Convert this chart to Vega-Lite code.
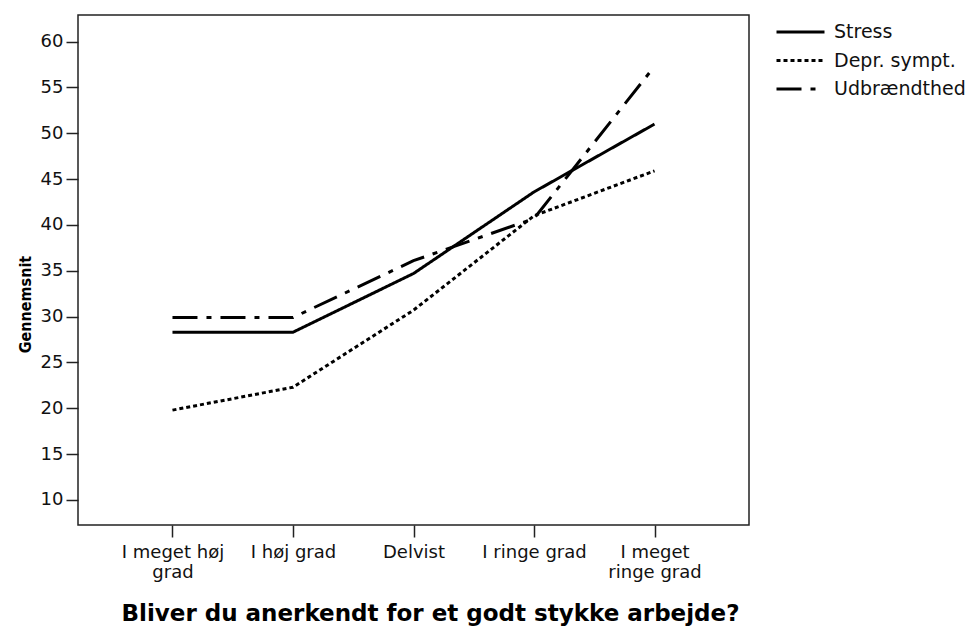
{
  "$schema": "https://vega.github.io/schema/vega-lite/v6.json",
  "autosize": {"type": "none"},
  "padding": {"left": 78, "top": 15, "right": 216, "bottom": 101},
  "width": 671,
  "height": 510,
  "background": "white",
  "config": {
    "view": {"stroke": "#222", "strokeWidth": 1.5},
    "font": "DejaVu Sans"
  },
  "data": {
    "values": [
      {"cat": "I meget høj grad", "series": "Stress", "value": 28.3},
      {"cat": "I høj grad", "series": "Stress", "value": 28.3},
      {"cat": "Delvist", "series": "Stress", "value": 34.7},
      {"cat": "I ringe grad", "series": "Stress", "value": 43.6},
      {"cat": "I meget ringe grad", "series": "Stress", "value": 51.0},
      {"cat": "I meget høj grad", "series": "Depr. sympt.", "value": 19.8},
      {"cat": "I høj grad", "series": "Depr. sympt.", "value": 22.3},
      {"cat": "Delvist", "series": "Depr. sympt.", "value": 30.7},
      {"cat": "I ringe grad", "series": "Depr. sympt.", "value": 41.0},
      {"cat": "I meget ringe grad", "series": "Depr. sympt.", "value": 45.9},
      {"cat": "I meget høj grad", "series": "Udbrændthed", "value": 29.9},
      {"cat": "I høj grad", "series": "Udbrændthed", "value": 29.9},
      {"cat": "Delvist", "series": "Udbrændthed", "value": 36.1},
      {"cat": "I ringe grad", "series": "Udbrændthed", "value": 40.7},
      {"cat": "I meget ringe grad", "series": "Udbrændthed", "value": 57.3}
    ]
  },
  "mark": {"type": "line", "color": "#000", "strokeWidth": 3},
  "encoding": {
    "x": {
      "field": "cat",
      "type": "ordinal",
      "sort": ["I meget høj grad", "I høj grad", "Delvist", "I ringe grad", "I meget ringe grad"],
      "scale": {"type": "point", "padding": 0.784},
      "axis": {
        "title": "Bliver du anerkendt for et godt stykke arbejde?",
        "titleFont": "DejaVu Sans",
        "titleFontWeight": "bold",
        "titleFontSize": 23,
        "titleColor": "#000",
        "titleX": 352,
        "titleY": 95,
        "titleAnchor": null,
        "titleAlign": "center",
        "titleBaseline": "alphabetic",
        "labelAngle": 0,
        "labelFontSize": 18,
        "labelColor": "#111",
        "labelPadding": 6,
        "labelLineHeight": 20,
        "labelExpr": "datum.value == 'I meget høj grad' ? ['I meget høj', 'grad'] : datum.value == 'I meget ringe grad' ? ['I meget', 'ringe grad'] : datum.value",
        "tickSize": 12,
        "tickWidth": 1.5,
        "tickColor": "#222",
        "domain": false,
        "grid": false
      }
    },
    "y": {
      "field": "value",
      "type": "quantitative",
      "scale": {"domain": [7.27, 62.9], "nice": false, "zero": false},
      "axis": {
        "title": "Gennemsnit",
        "titleFont": "DejaVu Sans Condensed, Liberation Sans Narrow, Liberation Sans",
        "titleFontWeight": "bold",
        "titleFontSize": 16,
        "titleColor": "#000",
        "titleX": -48,
        "titleY": 289,
        "titleAngle": -90,
        "titleAlign": "center",
        "titleBaseline": "alphabetic",
        "values": [10, 15, 20, 25, 30, 35, 40, 45, 50, 55, 60],
        "labelFontSize": 18,
        "labelColor": "#111",
        "labelPadding": 3,
        "tickSize": 12,
        "tickWidth": 1.5,
        "tickColor": "#222",
        "domain": false,
        "grid": false
      }
    },
    "strokeDash": {
      "field": "series",
      "type": "nominal",
      "scale": {
        "domain": ["Stress", "Depr. sympt.", "Udbrændthed"],
        "range": [[1, 0], [4, 3], [25, 9, 5, 9]]
      },
      "legend": {
        "title": null,
        "orient": "none",
        "legendX": 697,
        "legendY": 3,
        "symbolType": "stroke",
        "symbolSize": 2304,
        "symbolStrokeWidth": 3,
        "symbolStrokeColor": "#000",
        "labelFontSize": 19,
        "labelColor": "#111",
        "labelOffset": 8,
        "clipHeight": 28,
        "rowPadding": 0.5
      }
    }
  }
}
